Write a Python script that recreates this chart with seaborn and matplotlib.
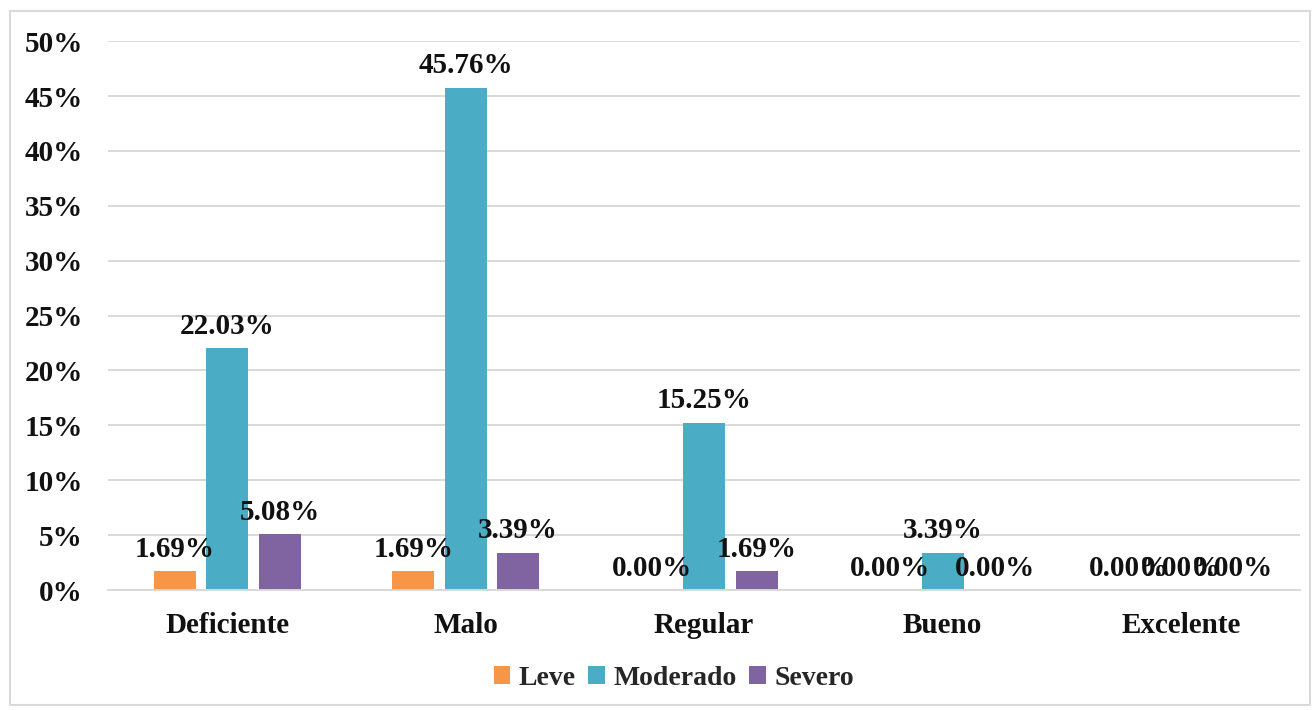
import numpy as np
import pandas as pd
import matplotlib
matplotlib.use("Agg")
import matplotlib.pyplot as plt
import seaborn as sns
from matplotlib.ticker import PercentFormatter
from matplotlib.patches import Rectangle

categorias = ["Deficiente", "Malo", "Regular", "Bueno", "Excelente"]
leve = [1.69, 1.69, 0.00, 0.00, 0.00]
moderado = [22.03, 45.76, 15.25, 3.39, 0.00]
severo = [5.08, 3.39, 1.69, 0.00, 0.00]
grupos = ["Leve", "Moderado", "Severo"]
colores = ["#F79646", "#4BACC6", "#8064A2"]

df = pd.DataFrame({
    "categoria": categorias * 3,
    "grupo": np.repeat(grupos, len(categorias)),
    "valor": leve + moderado + severo,
})

sns.set_style("white")
plt.rcParams["font.family"] = ["Liberation Serif", "DejaVu Serif"]
plt.rcParams["font.weight"] = "bold"

fig = plt.figure(figsize=(13.16, 7.10), dpi=100)
ax = fig.add_axes([0.082, 0.169, 0.906, 0.773])

sns.barplot(data=df, x="categoria", y="valor", hue="grupo", order=categorias,
            hue_order=grupos, palette=colores, width=0.66, gap=0.2,
            saturation=1, linewidth=0, ax=ax, legend=True)

for cont in ax.containers:
    vals = [b.get_height() for b in cont]
    ax.bar_label(cont, labels=[f"{v:.2f}%" for v in vals], padding=6,
                 fontsize=21, fontweight="bold", color="#111111")

ax.set_ylim(0, 50)
ax.set_yticks(np.arange(0, 51, 5))
ax.yaxis.set_major_formatter(PercentFormatter(decimals=0))
ax.grid(axis="y", color="#D9D9D9", linewidth=1.4)
ax.set_axisbelow(True)
for s in ["top", "right", "left"]:
    ax.spines[s].set_visible(False)
ax.spines["bottom"].set_color("#D9D9D9")
ax.spines["bottom"].set_linewidth(1.4)
ax.tick_params(axis="both", length=0, labelsize=21, colors="#111111")
ax.tick_params(axis="y", pad=18)
ax.tick_params(axis="x", pad=16)
for t in ax.get_xticklabels() + ax.get_yticklabels():
    t.set_fontweight("bold")
ax.set_xlabel("")
ax.set_ylabel("")

handles, labels = ax.get_legend_handles_labels()
ax.legend(handles, labels, loc="center", bbox_to_anchor=(0.512, 0.045),
          bbox_transform=fig.transFigure, ncol=3, frameon=False,
          handlelength=0.6, handleheight=0.6, handletextpad=0.3,
          columnspacing=0.45, prop={"size": 20, "weight": "bold"})

fig.patches.append(Rectangle((10 / 1316, 0.007), 1300 / 1316, 1 - 11 / 710 - 0.007,
                             transform=fig.transFigure, fill=False,
                             edgecolor="#D9D9D9", linewidth=1.5))

plt.savefig("out.png", dpi=100)
